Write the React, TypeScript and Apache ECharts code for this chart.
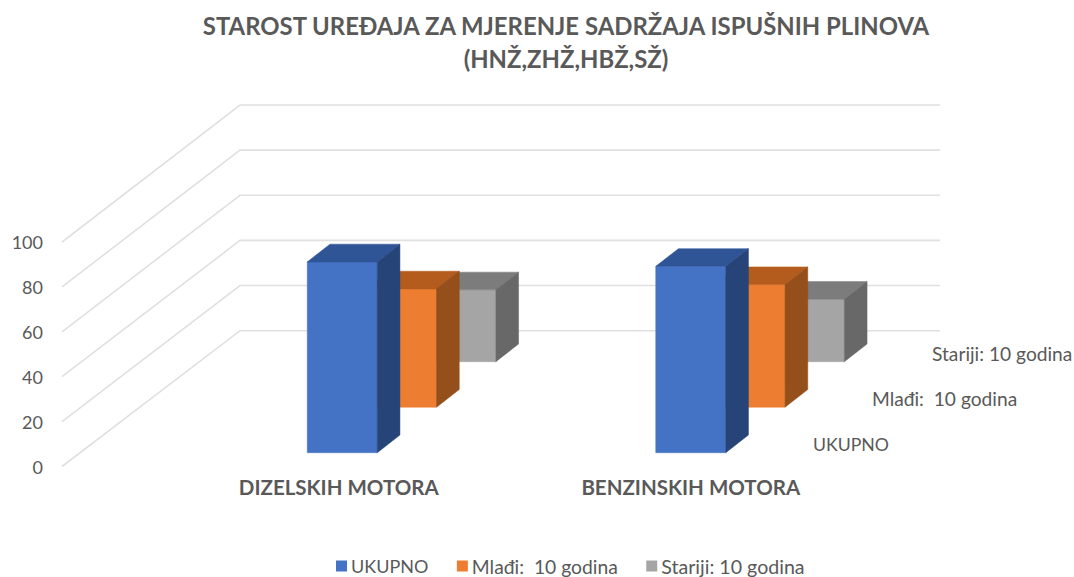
import React, { useEffect, useRef } from "react";
import * as echarts from "echarts";

const titleLines = ["STAROST UREĐAJA ZA MJERENJE SADRŽAJA ISPUŠNIH PLINOVA", "(HNŽ,ZHŽ,HBŽ,SŽ)"];
const categories = ["DIZELSKIH MOTORA", "BENZINSKIH MOTORA"];
const seriesNames = ["UKUPNO", "Mlađi:  10 godina", "Stariji: 10 godina"];
const ukupno = [85, 83];
const mladi = [52.7, 54.6];
const stariji = [32, 27.8];
const yTicks = [0, 20, 40, 60, 80, 100];

const FONT = "Lato, 'Liberation Sans', sans-serif";
const TEXT = "#595959";
const faceColors = ["#4472c4", "#ed7d31", "#a5a5a5"];
const topColors = ["#2f5597", "#b35c1e", "#7c7c7c"];
const sideColors = ["#264478", "#954f1a", "#686868"];
const seriesFontSizes = [18, 19.3, 19.6];

const ROW_DX = 59.3;
const ROW_DY = -45.5;
const BASE_DY = -13.8;
const BAR_RATIO = 70 / 348.5;
const DEPTH_DX = 22.7;
const DEPTH_DY = -17.7;

function barRenderer(row: number) {
  return (_p: any, api: any) => {
    const cat = api.value(0);
    const val = api.value(1);
    const base = api.coord([cat, 0]);
    const top = api.coord([cat, val]);
    const w = api.size([1, 0])[0] * BAR_RATIO;
    const x0 = base[0] - w / 2 + row * ROW_DX;
    const x1 = x0 + w;
    const yb = base[1] + BASE_DY + row * ROW_DY;
    const yt = top[1] + BASE_DY + row * ROW_DY;
    const poly = (points: number[][], fill: string) => ({
      type: "polygon",
      shape: { points },
      style: { fill, stroke: fill, lineWidth: 0.5 },
    });
    return {
      type: "group",
      children: [
        poly([[x0, yb], [x1, yb], [x1, yt], [x0, yt]], faceColors[row]),
        poly([[x0, yt], [x1, yt], [x1 + DEPTH_DX, yt + DEPTH_DY], [x0 + DEPTH_DX, yt + DEPTH_DY]], topColors[row]),
        poly([[x1, yb], [x1 + DEPTH_DX, yb + DEPTH_DY], [x1 + DEPTH_DX, yt + DEPTH_DY], [x1, yt]], sideColors[row]),
      ],
    };
  };
}

function wallRenderer(_p: any, api: any) {
  const v = api.value(1);
  const y = api.coord([0, v])[1];
  const backY = y - 135.8 - v * 0.012;
  return {
    type: "polyline",
    shape: { points: [[62, y], [240, backY], [940, backY]] },
    style: { stroke: "#e0e0e0", lineWidth: 1.6, fill: null },
  };
}

export default function App() {
  const ref = useRef<HTMLDivElement>(null);
  useEffect(() => {
    const chart = echarts.init(ref.current!, undefined, { renderer: "svg" });
    const rows = [ukupno, mladi, stariji];
    chart.setOption({
      animation: false,
      backgroundColor: "#ffffff",
      title: {
        text: titleLines.join("\n"),
        left: 561,
        top: 4,
        textAlign: "center",
        textStyle: { fontFamily: FONT, fontSize: 23.9, fontWeight: "bold", color: TEXT, lineHeight: 33 },
      },
      grid: { left: 168, top: 242, width: 697, height: 224.5 },
      xAxis: {
        type: "category",
        data: [
          { value: categories[0], textStyle: { padding: [0, 7, 0, 0] } },
          { value: categories[1] },
        ],
        axisLine: { show: false },
        axisTick: { show: false },
        axisLabel: { fontFamily: FONT, fontSize: 20.5, fontWeight: "bold", color: TEXT, margin: 10 },
      },
      yAxis: {
        type: "value",
        min: 0,
        max: 100,
        interval: 20,
        offset: 125,
        axisLine: { show: false },
        axisTick: { show: false },
        splitLine: { show: false },
        axisLabel: { fontFamily: FONT, fontSize: 18, color: TEXT, margin: 0 },
      },
      legend: {
        data: seriesNames.map((name, i) => ({ name, textStyle: { fontSize: seriesFontSizes[i] } })),
        left: 336,
        top: 556,
        itemWidth: 11,
        itemHeight: 11,
        itemGap: 28.5,
        icon: "rect",
        textStyle: { fontFamily: FONT, fontSize: 18, color: TEXT, padding: [0, 0, 0, -1] },
        padding: 0,
      },
      graphic: [
        { type: "text", x: 813, y: 444, style: { text: seriesNames[0], fontFamily: FONT, fontSize: 17.7, fill: TEXT, textVerticalAlign: "middle" } },
        { type: "text", x: 872, y: 398, style: { text: seriesNames[1], fontFamily: FONT, fontSize: 19.2, fill: TEXT, textVerticalAlign: "middle" } },
        { type: "text", x: 932, y: 353, style: { text: seriesNames[2], fontFamily: FONT, fontSize: 19.2, fill: TEXT, textVerticalAlign: "middle" } },
      ],
      series: [
        {
          type: "custom",
          name: "grid",
          silent: true,
          clip: false,
          z: 1,
          renderItem: wallRenderer,
          data: yTicks.map((t) => [0, t]),
          encode: { x: 0, y: 1 },
        },
        ...rows.map((vals, row) => ({
          type: "custom",
          name: seriesNames[row],
          clip: false,
          z: 5 - row,
          itemStyle: { color: faceColors[row] },
          renderItem: barRenderer(row),
          data: vals.map((v, i) => [i, v]),
          encode: { x: 0, y: 1 },
        })),
      ],
    });
    return () => chart.dispose();
  }, []);
  return <div ref={ref} style={{ position: "fixed", left: 0, top: 0, width: 1074, height: 577 }} />;
}
